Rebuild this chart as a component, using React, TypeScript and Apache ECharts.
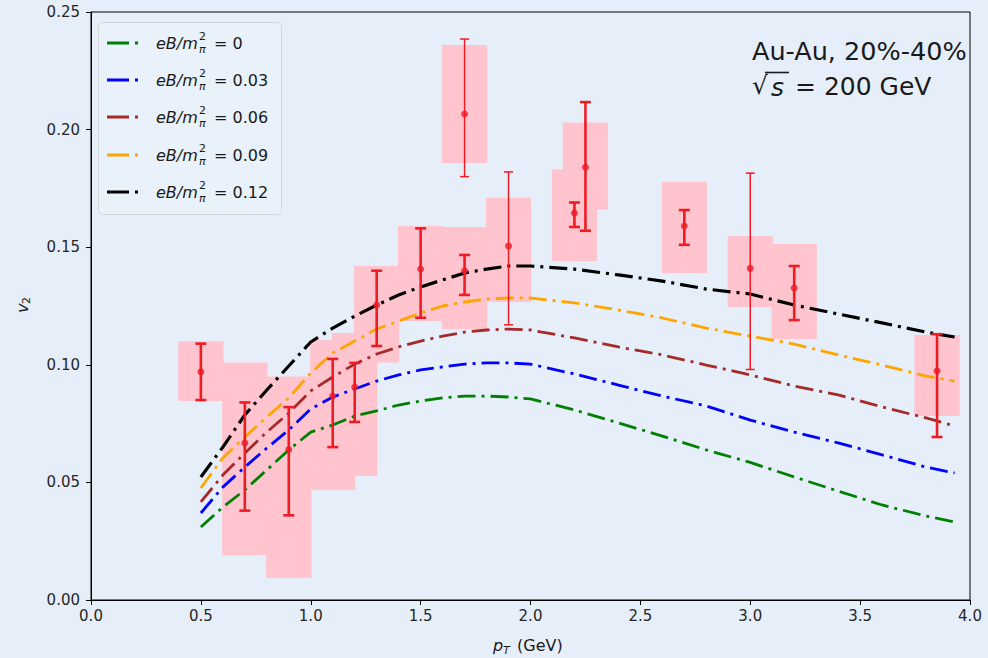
import React, { useEffect, useRef } from "react";
import * as echarts from "echarts";

// ---------- data ----------
const xTicks = [0, 0.5, 1.0, 1.5, 2.0, 2.5, 3.0, 3.5, 4.0];
const yTicks = [0, 0.05, 0.1, 0.15, 0.2, 0.25];

const curveX = [0.5, 0.6, 0.7, 0.8, 0.9, 1.0, 1.1, 1.2, 1.3, 1.4, 1.5, 1.6, 1.7, 1.8, 1.9, 2.0, 2.2, 2.4, 2.6, 2.8, 3.0, 3.2, 3.4, 3.6, 3.8, 3.93];
const eb000 = [0.031, 0.0395, 0.0468, 0.0553, 0.0638, 0.0714, 0.0744, 0.0782, 0.0804, 0.0829, 0.0846, 0.0859, 0.0867, 0.0867, 0.0863, 0.0855, 0.0808, 0.0753, 0.0697, 0.0638, 0.0585, 0.0523, 0.0463, 0.0404, 0.0357, 0.0332];
const eb003 = [0.037, 0.048, 0.0565, 0.0646, 0.0723, 0.0812, 0.0863, 0.0897, 0.0931, 0.0957, 0.0978, 0.0991, 0.1003, 0.1008, 0.1008, 0.1003, 0.0961, 0.0914, 0.0867, 0.0825, 0.0765, 0.0714, 0.0668, 0.0617, 0.0565, 0.054];
const eb006 = [0.0417, 0.0531, 0.0625, 0.0714, 0.0795, 0.0889, 0.0948, 0.1003, 0.1046, 0.1076, 0.1101, 0.1122, 0.1139, 0.1148, 0.1152, 0.1148, 0.1114, 0.1076, 0.1042, 0.0999, 0.0957, 0.091, 0.0872, 0.0821, 0.0774, 0.074];
const eb009 = [0.0476, 0.0604, 0.0693, 0.0778, 0.0859, 0.0965, 0.105, 0.1101, 0.1152, 0.1186, 0.122, 0.125, 0.1267, 0.128, 0.1284, 0.1284, 0.1263, 0.1233, 0.1199, 0.1156, 0.1122, 0.1088, 0.1042, 0.0999, 0.0952, 0.0931];
const eb012 = [0.0523, 0.065, 0.0787, 0.0893, 0.0995, 0.1097, 0.1156, 0.1207, 0.1254, 0.1297, 0.1331, 0.1361, 0.139, 0.1407, 0.142, 0.142, 0.1407, 0.1382, 0.1356, 0.1322, 0.1301, 0.1254, 0.1216, 0.1178, 0.1139, 0.1118];

const curveNames = ["0", "0.03", "0.06", "0.09", "0.12"];
const curveColors = ["#008000", "#0000ff", "#a52a2a", "#ffa500", "#000000"];

// experimental points, set A (thick error bars)
const aX = [0.5, 0.7, 0.9, 1.1, 1.2, 1.3, 1.5, 1.7, 2.2, 2.25, 2.7, 3.2, 3.85];
const aY = [0.097, 0.0667, 0.064, 0.0867, 0.0906, 0.1254, 0.1407, 0.14, 0.1645, 0.184, 0.159, 0.1326, 0.0974];
const aErrLo = [0.085, 0.038, 0.036, 0.065, 0.0757, 0.108, 0.12, 0.1297, 0.1586, 0.157, 0.151, 0.119, 0.0693];
const aErrHi = [0.109, 0.084, 0.082, 0.1025, 0.1008, 0.14, 0.158, 0.1467, 0.169, 0.2117, 0.1658, 0.142, 0.113];
const aSysLo = [0.0846, 0.019, 0.0094, 0.0468, 0.0527, 0.101, 0.1186, 0.1152, 0.144, 0.166, 0.139, 0.111, 0.0782];
const aSysHi = [0.11, 0.101, 0.095, 0.1105, 0.1135, 0.142, 0.159, 0.1586, 0.183, 0.203, 0.1777, 0.1514, 0.1127];

// experimental points, set B (thin error bars)
const bX = [1.7, 1.9, 3.0];
const bY = [0.2066, 0.1505, 0.141];
const bErrLo = [0.18, 0.117, 0.098];
const bErrHi = [0.2385, 0.182, 0.1815];
const bSysLo = [0.1858, 0.1267, 0.1246];
const bSysHi = [0.236, 0.171, 0.1548];

const sysHalfWidth = 0.103;

const BG = "#e6eff9";
const RED = "#ee1c25";
const PINK = "#ffc4cd";
const DASH = [18, 6, 3, 6];

export default function App() {
  const ref = useRef<HTMLDivElement>(null);

  useEffect(() => {
    if (!ref.current) return;
    const chart = echarts.init(ref.current, undefined, { renderer: "svg" });

    const curves = [eb000, eb003, eb006, eb009, eb012];

    const boxData = [
      ...aX.map((x, i) => [x, aSysLo[i], aSysHi[i]]),
      ...bX.map((x, i) => [x, bSysLo[i], bSysHi[i]]),
    ];

    const boxSeries = {
      type: "custom",
      z: 1,
      data: boxData,
      renderItem: (_p: any, api: any) => {
        const x = api.value(0);
        const p1 = api.coord([x - sysHalfWidth, api.value(2)]);
        const p2 = api.coord([x + sysHalfWidth, api.value(1)]);
        return {
          type: "rect",
          shape: { x: p1[0], y: p1[1], width: p2[0] - p1[0], height: p2[1] - p1[1] },
          style: { fill: PINK },
        };
      },
    };

    const errSeries = (xs: number[], lo: number[], hi: number[], lw: number, cap: number) => ({
      type: "custom",
      z: 5,
      data: xs.map((x, i) => [x, lo[i], hi[i]]),
      renderItem: (_p: any, api: any) => {
        const x = api.value(0);
        const a = api.coord([x, api.value(1)]);
        const b = api.coord([x, api.value(2)]);
        const st = { stroke: RED, lineWidth: lw };
        return {
          type: "group",
          children: [
            { type: "line", shape: { x1: a[0], y1: a[1], x2: b[0], y2: b[1] }, style: st },
            { type: "line", shape: { x1: a[0] - cap, y1: a[1], x2: a[0] + cap, y2: a[1] }, style: st },
            { type: "line", shape: { x1: b[0] - cap, y1: b[1], x2: b[0] + cap, y2: b[1] }, style: st },
          ],
        };
      },
    });

    const lineSeries = curves.map((c, k) => ({
      type: "line",
      name: "eB/m2 = " + curveNames[k],
      z: 3,
      symbol: "none",
      data: curveX.map((x, i) => [x, c[i]]),
      lineStyle: { color: curveColors[k], width: k === 4 ? 3.2 : 2.8, type: DASH, cap: "butt" },
    }));

    const scatter = {
      type: "scatter",
      z: 6,
      symbol: "circle",
      symbolSize: 7,
      itemStyle: { color: RED },
      data: [...aX.map((x, i) => [x, aY[i]]), ...bX.map((x, i) => [x, bY[i]])],
    };

    const txt = (text: string, x: number, y: number, font: string, align = "left", vAlign = "middle", extra: any = {}) => ({
      type: "text",
      x,
      y,
      z: 20,
      style: {
        text,
        font,
        fill: "#1a1a1a",
        align,
        verticalAlign: vAlign,
        textAlign: align,
        textVerticalAlign: vAlign,
        ...extra,
      },
    });

    const legendRowY = [43, 80, 117, 155, 192];
    const legendItems: any[] = [
      {
        type: "rect",
        z: 10,
        shape: { x: 98.5, y: 22.5, width: 183, height: 192, r: 4 },
        style: { fill: "#e9f1fb", stroke: "#d3d7dc", lineWidth: 1 },
      },
    ];
    curveNames.forEach((n, k) => {
      const y = legendRowY[k];
      legendItems.push({
        type: "line",
        z: 21,
        shape: { x1: 107, y1: y, x2: 141, y2: y },
        style: { stroke: curveColors[k], lineWidth: k === 4 ? 3.2 : 2.8, lineDash: [22, 6, 3, 6], lineCap: "butt" },
      });
      legendItems.push(txt("eB/m", 156, y, 'italic 16px "DejaVu Sans"'));
      legendItems.push(txt("2", 199, y - 7, '11px "DejaVu Sans"'));
      legendItems.push(txt("π", 199, y + 6, 'italic 11px "DejaVu Sans"'));
      legendItems.push(txt("= " + n, 214, y, '16px "DejaVu Sans"'));
    });

    const option: any = {
      animation: false,
      backgroundColor: BG,
      grid: {
        left: 91,
        top: 12,
        width: 879,
        height: 588,
        show: true,
        backgroundColor: BG,
        borderColor: "#000",
        borderWidth: 1,
      },
      xAxis: {
        type: "value",
        min: xTicks[0],
        max: xTicks[xTicks.length - 1],
        interval: 0.5,
        axisLine: { show: true, onZero: false, lineStyle: { color: "#000", width: 1 } },
        axisTick: { show: true, length: 5, lineStyle: { color: "#000" } },
        splitLine: { show: false },
        axisLabel: {
          margin: 8,
          color: "#262626",
          fontSize: 15,
          fontFamily: "DejaVu Sans",
          formatter: (v: number) => v.toFixed(1),
        },
      },
      yAxis: {
        type: "value",
        min: yTicks[0],
        max: yTicks[yTicks.length - 1],
        interval: 0.05,
        axisLine: { show: true, onZero: false, lineStyle: { color: "#000", width: 1 } },
        axisTick: { show: true, length: 5, lineStyle: { color: "#000" } },
        splitLine: { show: false },
        axisLabel: {
          margin: 11,
          color: "#262626",
          fontSize: 15,
          fontFamily: "DejaVu Sans",
          formatter: (v: number) => v.toFixed(2),
        },
      },
      graphic: [
        ...legendItems,
        txt("Au-Au, 20%-40%", 752, 51, '25.5px "DejaVu Sans"'),
        txt("√", 752, 85, '25px "DejaVu Sans"'),
        { type: "line", z: 20, shape: { x1: 765, y1: 72.5, x2: 789, y2: 72.5 }, style: { stroke: "#1a1a1a", lineWidth: 1.6 } },
        txt("s", 771, 87, 'italic 25px "DejaVu Sans"'),
        txt("= 200 GeV", 795, 86, '25px "DejaVu Sans"'),
        // x axis title
        txt("p", 493, 645, 'italic 16px "DejaVu Sans"'),
        txt("T", 503, 650, 'italic 11px "DejaVu Sans"'),
        txt("(GeV)", 517, 645, '16px "DejaVu Sans"'),
        // y axis title
        {
          type: "group",
          x: 22,
          y: 306,
          rotation: Math.PI / 2,
          z: 20,
          children: [
            txt("v", -7, 0, 'italic 16px "DejaVu Sans"'),
            txt("2", 2, 4, '11px "DejaVu Sans"'),
          ],
        },
      ],
      series: [
        boxSeries,
        ...lineSeries,
        errSeries(aX, aErrLo, aErrHi, 2.6, 5.5),
        errSeries(bX, bErrLo, bErrHi, 1.5, 4.5),
        scatter,
      ],
    };

    chart.setOption(option);
    return () => chart.dispose();
  }, []);

  return (
    <div
      ref={ref}
      style={{ position: "fixed", left: 0, top: 0, width: 988, height: 658, background: BG }}
    />
  );
}
